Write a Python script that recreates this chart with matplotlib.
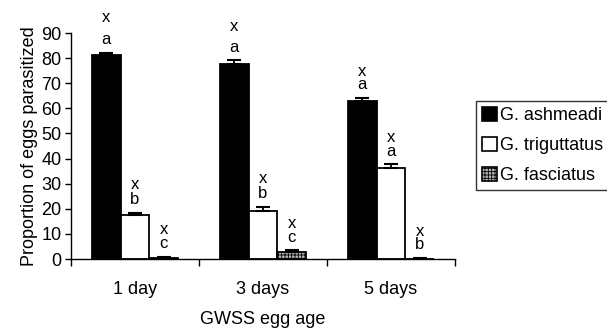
import numpy as np
import matplotlib
matplotlib.use('Agg')
import matplotlib.pyplot as plt
from matplotlib.patches import Patch

plt.rcParams['font.family'] = ['Liberation Sans', 'DejaVu Sans']
plt.rcParams['hatch.linewidth'] = 0.6

ages = ['1 day', '3 days', '5 days']
species = ['G. ashmeadi', 'G. triguttatus', 'G. fasciatus']
# mean proportion parasitized and standard error, per species
means = {'G. ashmeadi': [81.2, 77.6, 62.8],
         'G. triguttatus': [17.7, 19.3, 36.3],
         'G. fasciatus': [0.6, 2.6, 0.2]}
errs = {'G. ashmeadi': [0.8, 1.5, 1.2],
        'G. triguttatus': [0.6, 1.4, 1.4],
        'G. fasciatus': [0.2, 0.8, 0.1]}
# significance letters (within age) and x (across ages)
letters = {'G. ashmeadi': ['a', 'a', 'a'],
           'G. triguttatus': ['b', 'b', 'a'],
           'G. fasciatus': ['c', 'c', 'b']}
upper = 'x'

styles = {'G. ashmeadi': dict(facecolor='black', hatch=None),
          'G. triguttatus': dict(facecolor='white', hatch=None),
          'G. fasciatus': dict(facecolor='#b8b8b8', hatch='+++++')}
# spacing (in y units) between the letter and the x above it
x_gap = {'G. ashmeadi': [9, 8, 5.5],
         'G. triguttatus': [6, 6, 5.4],
         'G. fasciatus': [5.5, 5.4, 5.5]}

fs = 13
fig = plt.figure(figsize=(6.07, 3.31), dpi=100)
ax = fig.add_axes([0.117, 0.2175, 0.6326, 0.6828])

x = np.arange(len(ages))
w = 0.224
for i, sp in enumerate(species):
    pos = x + (i - 1) * w
    st = styles[sp]
    ax.bar(pos, means[sp], w, facecolor=st['facecolor'], hatch=st['hatch'],
           edgecolor='black', linewidth=1.3, zorder=2)
    ax.errorbar(pos, means[sp], yerr=[np.zeros(3), errs[sp]], fmt='none',
                ecolor='black', elinewidth=1.3, capsize=5, capthick=1.5, zorder=3)
    for j in range(len(ages)):
        top = means[sp][j] + errs[sp][j]
        ly = top + 5.3
        ax.text(pos[j], ly, letters[sp][j], ha='center', va='center',
                fontsize=fs - 1, clip_on=False)
        ax.text(pos[j], ly + x_gap[sp][j], upper, ha='center', va='center',
                fontsize=fs - 1, clip_on=False)

ax.set_xlim(-0.5, 2.5)
ax.set_ylim(0, 90)
ax.set_yticks(np.arange(0, 91, 10))
ax.set_xticks(x)
ax.set_xticklabels(ages)
ax.set_xticks(np.arange(-0.5, 2.6, 1), minor=True)
ax.tick_params(axis='x', which='major', length=0, pad=16, labelsize=fs)
ax.tick_params(axis='x', which='minor', length=5, width=1, direction='out')
ax.tick_params(axis='y', length=4, width=1, labelsize=fs, pad=3)
for s in ['top', 'right']:
    ax.spines[s].set_visible(False)
for s in ['left', 'bottom']:
    ax.spines[s].set_linewidth(1)
ax.set_ylabel('Proportion of eggs parasitized', fontsize=fs, labelpad=2)
ax.set_xlabel('GWSS egg age', fontsize=fs, labelpad=9)

handles = [Patch(facecolor=styles[sp]['facecolor'], hatch=styles[sp]['hatch'],
                 edgecolor='black', linewidth=1.2, label=sp) for sp in species]
leg = fig.legend(handles=handles, loc='upper left', bbox_to_anchor=(0.784, 0.695),
                 frameon=True, fancybox=False, edgecolor='black', fontsize=fs,
                 handlelength=0.8, handleheight=0.8, handletextpad=0.2,
                 labelspacing=0.7, borderpad=0.35, borderaxespad=0)
leg.get_frame().set_linewidth(1)

fig.savefig('out.png', dpi=100)
